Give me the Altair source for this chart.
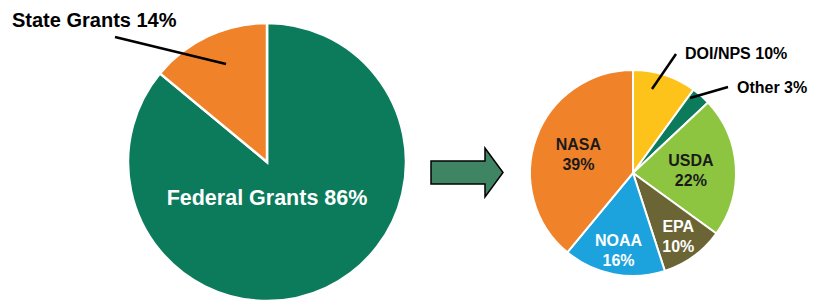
import altair as alt
import pandas as pd

# ---- data ----
fund_sources = ["Federal Grants", "State Grants"]
fund_pct = [86, 14]
fund_colors = ["#0b7b5b", "#f0822a"]

agencies = ["DOI/NPS", "Other", "USDA", "EPA", "NOAA", "NASA"]
agency_pct = [10, 3, 22, 10, 16, 39]
agency_colors = ["#fdc31b", "#0b7b5b", "#8dc540", "#6b6535", "#1ca3dd", "#f0822a"]

left_df = pd.DataFrame({"cat": fund_sources, "pct": fund_pct, "ord": list(range(len(fund_sources)))})
left_df["label"] = [f"{c} {p}%" for c, p in zip(fund_sources, fund_pct)]
right_df = pd.DataFrame({"cat": agencies, "pct": agency_pct, "ord": list(range(len(agencies)))})
right_df["label"] = [f"{c}\n{p}%" for c, p in zip(agencies, agency_pct)]
right_df["outlabel"] = [f"{c} {p}%" for c, p in zip(agencies, agency_pct)]

FONT = "Liberation Sans"
W, H = 806, 285
LCX, LCY, LR = 259, 154, 139
RCX, RCY, RR = 625, 165, 103

order = alt.Order("ord:O")

left_pie = alt.Chart(left_df).mark_arc(radius=LR, stroke="white", strokeWidth=2.5).encode(
    theta=alt.Theta("pct:Q", stack=True), order=order,
    color=alt.Color("cat:N", scale=alt.Scale(domain=fund_sources, range=fund_colors), legend=None),
    x=alt.value(LCX), y=alt.value(LCY),
)

right_pie = alt.Chart(right_df).mark_arc(radius=RR, stroke="white", strokeWidth=2).encode(
    theta=alt.Theta("pct:Q", stack=True), order=order,
    color=alt.Color("cat:N", scale=alt.Scale(domain=agencies, range=agency_colors), legend=None),
    x=alt.value(RCX), y=alt.value(RCY),
)

inner_a = alt.Chart(right_df).mark_text(
    radius=58, font=FONT, fontSize=16, fontWeight="bold", color="#1a1a1a",
    lineBreak="\n", lineHeight=20, baseline="middle", align="center", dy=-8,
).encode(
    theta=alt.Theta("pct:Q", stack=True), order=order,
    x=alt.value(RCX), y=alt.value(RCY),
    text=alt.condition("datum.cat == 'NASA' || datum.cat == 'USDA'", alt.Text("label:N"), alt.value("")),
)

inner_b = alt.Chart(right_df).mark_text(
    radius=77, font=FONT, fontSize=16, fontWeight="bold", color="white",
    lineBreak="\n", lineHeight=20, baseline="middle", align="center", dy=-8,
).encode(
    theta=alt.Theta("pct:Q", stack=True), order=order,
    x=alt.value(RCX), y=alt.value(RCY),
    text=alt.condition("datum.cat == 'EPA' || datum.cat == 'NOAA'", alt.Text("label:N"), alt.value("")),
)

one = pd.DataFrame({"a": [0]})

def rule(x1, y1, x2, y2):
    return alt.Chart(one).mark_rule(color="black", strokeWidth=2.5).encode(
        x=alt.value(x1), y=alt.value(y1), x2=alt.value(x2), y2=alt.value(y2))

def label(txt, x, y, size, color="black", align="left"):
    return alt.Chart(one).mark_text(
        font=FONT, fontSize=size, fontWeight="bold", color=color, align=align, baseline="alphabetic"
    ).encode(x=alt.value(x), y=alt.value(y), text=alt.value(txt))

state_lbl = label(left_df["label"][1], 4, 19, 20)
fed_lbl = label(left_df["label"][0], LCX, 197, 21.5, color="white", align="center")
doi_lbl = label(right_df["outlabel"][0], 677, 51, 16)
oth_lbl = label(right_df["outlabel"][1], 729, 85, 16)

arrow_path = "M -1 -0.32 L 0.5 -0.32 L 0.5 -0.68 L 1 0 L 0.5 0.68 L 0.5 0.32 L -1 0.32 Z"
arrow = alt.Chart(one).mark_point(
    shape=arrow_path, size=5184, filled=True, fill="#3f8564", stroke="black",
    strokeWidth=1.5, opacity=1, fillOpacity=1,
).encode(x=alt.value(459), y=alt.value(164.5))

chart = alt.layer(
    left_pie, right_pie, inner_a, inner_b,
    rule(107, 29, 218, 56), rule(668, 46, 644, 81), rule(720, 79, 682, 90),
    state_lbl, fed_lbl, doi_lbl, oth_lbl, arrow,
).resolve_scale(theta="independent", color="independent").properties(
    width=W, height=H, padding=0, background="white"
).configure_view(stroke=None)

chart.save("out.html", embed_options={"renderer": "svg", "actions": False})
